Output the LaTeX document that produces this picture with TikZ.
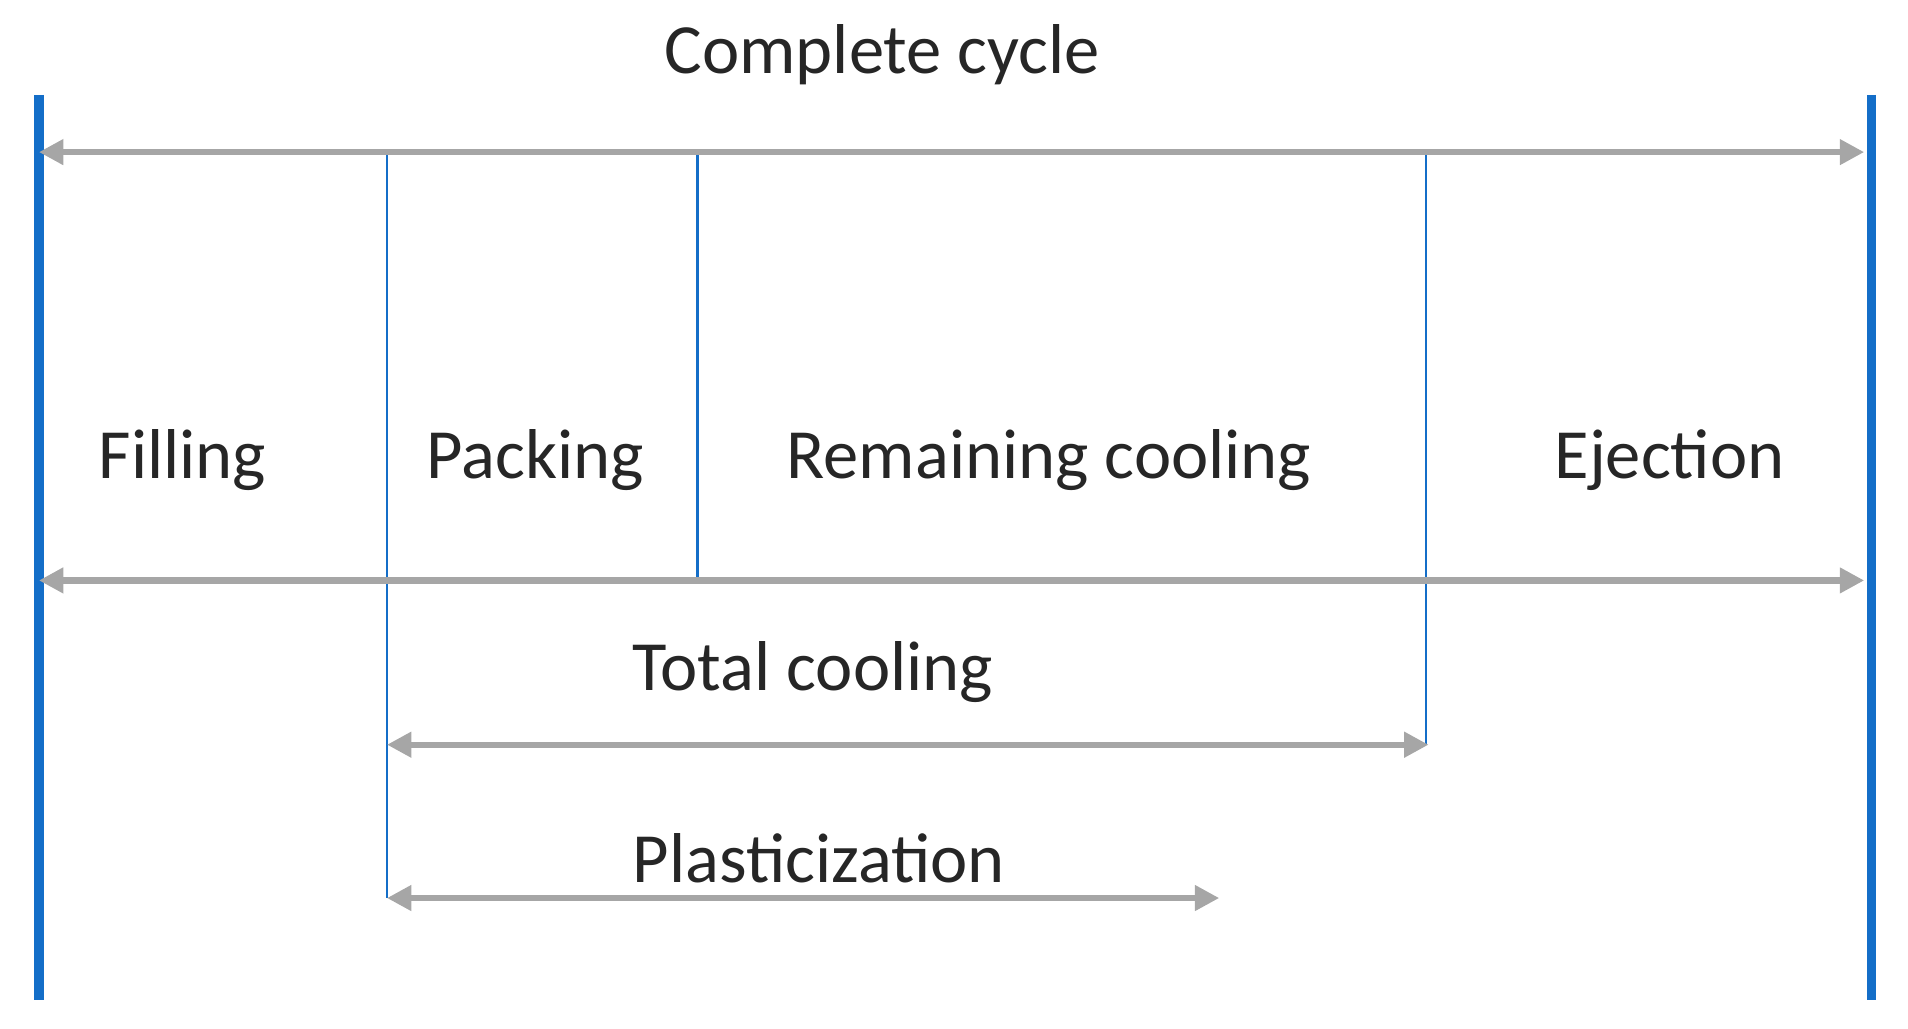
\documentclass[tikz,border=0pt]{standalone}
\usepackage{fontspec}
\setmainfont{Carlito}
\usetikzlibrary{arrows.meta}
\definecolor{bl}{RGB}{20,110,200}
\definecolor{gr}{RGB}{166,166,166}
\begin{document}
\begin{tikzpicture}[x=0.5pt,y=-0.5pt,
  thick/.style={bl,line width=4pt},
  thin/.style={bl,line width=1.1pt},
  arr/.style={gr,line width=2.6pt,{Triangle[length=10pt,width=10pt]}-{Triangle[length=10pt,width=10pt]}},
  lab/.style={font=\fontsize{29}{34}\selectfont,text=black!85}]
\useasboundingbox (0,0) rectangle (1568,845);
\coordinate (L1) at (32,78); \coordinate (L2) at (32,822);
\coordinate (R1) at (1538,78); \coordinate (R2) at (1538,822);
\coordinate (TA) at (32,125); \coordinate (TB) at (1532,125);
\coordinate (MA) at (32,477); \coordinate (MB) at (1532,477);
\coordinate (V1a) at (318,125); \coordinate (V1b) at (318,738);
\coordinate (V2a) at (573,125); \coordinate (V2b) at (573,477);
\coordinate (V3a) at (1172,125); \coordinate (V3b) at (1172,612);
\coordinate (CA) at (318,612); \coordinate (CB) at (1174,612);
\coordinate (PA) at (318,738); \coordinate (PB) at (1002,738);
\draw[thick] (L1) -- (L2);
\draw[thick] (R1) -- (R2);
\draw[thin] (V1a) -- (V1b);
\draw[thin] (V2a) -- (V2b);
\draw[thin] (V3a) -- (V3b);
\draw[arr] (TA) -- (TB);
\draw[arr] (MA) -- (MB);
\draw[arr] (CA) -- (CB);
\draw[arr] (PA) -- (PB);
\node[lab] (t0) at (725,45) {Complete cycle};
\node[lab] (t1) at (150,378) {Filling};
\node[lab] (t2) at (440,378) {Packing};
\node[lab] (t3) at (862,378) {Remaining cooling};
\node[lab] (t4) at (1372,378) {Ejection};
\node[lab] (t5) at (668,552) {Total cooling};
\node[lab] (t6) at (673,705) {Plasticization};
\end{tikzpicture}
\end{document}
